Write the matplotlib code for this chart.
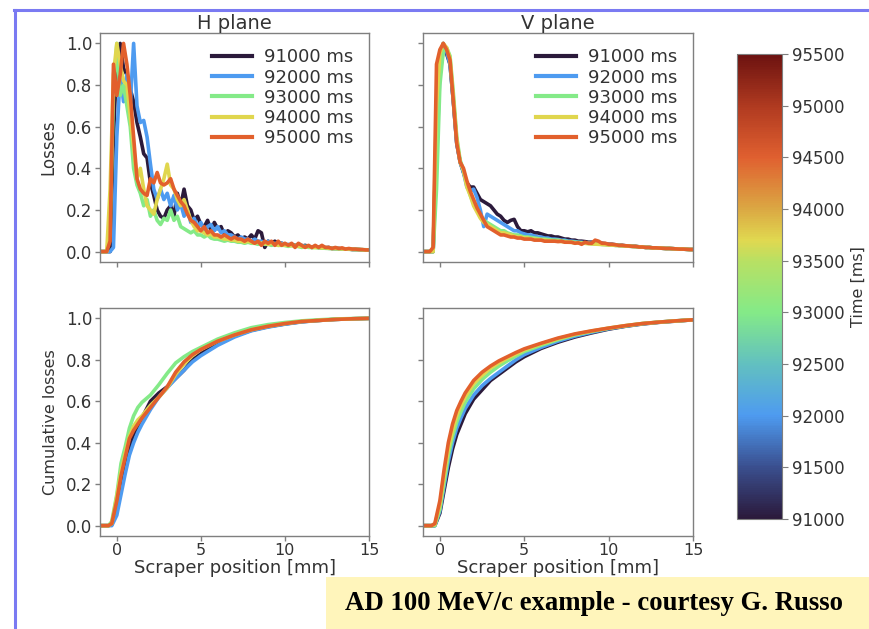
import numpy as np
import matplotlib
matplotlib.use("Agg")
import matplotlib.pyplot as plt
from matplotlib.colors import LinearSegmentedColormap, Normalize
from matplotlib.cm import ScalarMappable
from matplotlib.patches import Rectangle
from matplotlib.lines import Line2D

# ---------------- data ----------------
times = [91000, 92000, 93000, 94000, 95000]
labels = ["91000 ms", "92000 ms", "93000 ms", "94000 ms", "95000 ms"]
line_colors = ["#2b1a3b", "#4e9bf0", "#84ea88", "#e0d64e", "#e2602c"]

# scraper positions for the normalised loss profiles (mm)
x_loss = np.round(np.arange(-1.0, 15.0001, 0.2), 2)

h_loss_91000 = [0, 0, 0, 0, 0.55, 0.93, 1.0, 0.88, 0.85, 0.78,
                0.72, 0.62, 0.55, 0.47, 0.45, 0.33, 0.27, 0.2, 0.17, 0.16,
                0.2, 0.22, 0.17, 0.28, 0.22, 0.3, 0.22, 0.2, 0.15, 0.17,
                0.13, 0.12, 0.15, 0.1, 0.14, 0.11, 0.12, 0.08, 0.1, 0.09,
                0.07, 0.08, 0.06, 0.07, 0.06, 0.08, 0.06, 0.1, 0.09, 0.02,
                0.05, 0.04, 0.05, 0.04, 0.04, 0.035, 0.03, 0.035, 0.03, 0.03,
                0.025, 0.03, 0.025, 0.02, 0.025, 0.02, 0.02, 0.018, 0.02, 0.015,
                0.015, 0.015, 0.012, 0.013, 0.012, 0.01, 0.01, 0.01, 0.008, 0.008, 0.007]
h_loss_92000 = [0, 0, 0, 0, 0.02, 0.55, 0.85, 0.72, 0.85, 0.7,
                1.0, 0.7, 0.62, 0.63, 0.55, 0.42, 0.3, 0.25, 0.3, 0.25,
                0.28, 0.22, 0.27, 0.2, 0.23, 0.17, 0.2, 0.14, 0.16, 0.12,
                0.14, 0.1, 0.12, 0.13, 0.1, 0.12, 0.09, 0.1, 0.08, 0.08,
                0.07, 0.06, 0.07, 0.06, 0.06, 0.05, 0.06, 0.05, 0.05, 0.04,
                0.05, 0.04, 0.04, 0.035, 0.04, 0.03, 0.035, 0.03, 0.03, 0.025,
                0.03, 0.025, 0.025, 0.02, 0.022, 0.02, 0.018, 0.02, 0.016, 0.015,
                0.015, 0.014, 0.013, 0.012, 0.012, 0.011, 0.01, 0.01, 0.009, 0.008, 0.008]
h_loss_93000 = [0, 0, 0, 0.1, 0.75, 1.0, 0.75, 0.8, 0.7, 0.6,
                0.4, 0.32, 0.28, 0.22, 0.25, 0.17, 0.2, 0.15, 0.13, 0.16,
                0.15, 0.2, 0.15, 0.17, 0.12, 0.11, 0.1, 0.09, 0.1, 0.08,
                0.08, 0.07, 0.08, 0.065, 0.06, 0.06, 0.055, 0.05, 0.055, 0.05,
                0.05, 0.045, 0.045, 0.04, 0.045, 0.04, 0.04, 0.035, 0.04, 0.035,
                0.035, 0.03, 0.035, 0.03, 0.03, 0.03, 0.025, 0.03, 0.025, 0.025,
                0.02, 0.025, 0.02, 0.02, 0.02, 0.018, 0.017, 0.016, 0.015, 0.015,
                0.014, 0.013, 0.013, 0.012, 0.011, 0.011, 0.01, 0.01, 0.009, 0.009, 0.008]
h_loss_94000 = [0, 0, 0, 0.3, 0.85, 1.0, 0.9, 0.82, 0.8, 0.65,
                0.5, 0.35, 0.4, 0.3, 0.22, 0.2, 0.18, 0.25, 0.3, 0.35,
                0.42, 0.32, 0.3, 0.25, 0.22, 0.25, 0.2, 0.15, 0.12, 0.1,
                0.1, 0.09, 0.08, 0.085, 0.07, 0.07, 0.065, 0.06, 0.06, 0.055,
                0.055, 0.05, 0.05, 0.045, 0.05, 0.045, 0.04, 0.045, 0.04, 0.04,
                0.035, 0.04, 0.035, 0.03, 0.035, 0.03, 0.03, 0.028, 0.03, 0.025,
                0.025, 0.022, 0.025, 0.02, 0.02, 0.02, 0.018, 0.02, 0.016, 0.015,
                0.015, 0.014, 0.013, 0.012, 0.012, 0.011, 0.01, 0.01, 0.009, 0.008, 0.008]
h_loss_95000 = [0, 0, 0, 0.05, 0.9, 0.75, 0.85, 1.0, 0.9, 0.75,
                0.55, 0.35, 0.3, 0.28, 0.27, 0.35, 0.33, 0.38, 0.33, 0.32,
                0.33, 0.35, 0.3, 0.27, 0.24, 0.22, 0.18, 0.15, 0.14, 0.12,
                0.1, 0.12, 0.09, 0.1, 0.08, 0.08, 0.07, 0.08, 0.07, 0.06,
                0.07, 0.06, 0.06, 0.05, 0.06, 0.05, 0.04, 0.05, 0.03, 0.05,
                0.04, 0.05, 0.03, 0.05, 0.03, 0.04, 0.03, 0.04, 0.02, 0.04,
                0.03, 0.02, 0.03, 0.02, 0.03, 0.02, 0.03, 0.02, 0.02, 0.015,
                0.02, 0.015, 0.018, 0.012, 0.015, 0.012, 0.012, 0.01, 0.01, 0.008, 0.008]

v_loss_91000 = [0, 0, 0, 0, 0.6, 0.9, 1.0, 0.95, 0.9, 0.72,
                0.52, 0.43, 0.38, 0.33, 0.31, 0.31, 0.28, 0.25, 0.24, 0.23,
                0.22, 0.2, 0.18, 0.17, 0.15, 0.14, 0.15, 0.155, 0.12, 0.1,
                0.1, 0.095, 0.1, 0.09, 0.09, 0.085, 0.08, 0.075, 0.075, 0.07,
                0.07, 0.065, 0.06, 0.06, 0.055, 0.055, 0.05, 0.05, 0.048, 0.045,
                0.045, 0.042, 0.04, 0.04, 0.038, 0.035, 0.035, 0.033, 0.03, 0.03,
                0.028, 0.027, 0.026, 0.025, 0.023, 0.022, 0.02, 0.02, 0.018, 0.018,
                0.017, 0.016, 0.015, 0.015, 0.014, 0.013, 0.012, 0.012, 0.011, 0.01, 0.01]
v_loss_92000 = [0, 0, 0, 0, 0.45, 0.85, 0.97, 0.96, 0.9, 0.72,
                0.52, 0.43, 0.38, 0.31, 0.29, 0.3, 0.26, 0.2, 0.12, 0.18,
                0.17, 0.16, 0.15, 0.14, 0.13, 0.12, 0.11, 0.1, 0.1, 0.09,
                0.085, 0.08, 0.08, 0.075, 0.07, 0.07, 0.065, 0.065, 0.06, 0.06,
                0.058, 0.055, 0.055, 0.05, 0.05, 0.048, 0.045, 0.045, 0.042, 0.04,
                0.04, 0.038, 0.037, 0.035, 0.035, 0.033, 0.032, 0.03, 0.03, 0.028,
                0.027, 0.026, 0.025, 0.024, 0.023, 0.022, 0.02, 0.02, 0.018, 0.018,
                0.017, 0.016, 0.015, 0.015, 0.014, 0.013, 0.012, 0.012, 0.011, 0.01, 0.01]
v_loss_93000 = [0, 0, 0, 0, 0.3, 0.8, 0.96, 0.98, 0.94, 0.76,
                0.55, 0.44, 0.39, 0.32, 0.27, 0.23, 0.2, 0.17, 0.15, 0.14,
                0.13, 0.12, 0.11, 0.1, 0.1, 0.09, 0.085, 0.08, 0.08, 0.075,
                0.07, 0.07, 0.068, 0.065, 0.063, 0.06, 0.06, 0.058, 0.056, 0.055,
                0.055, 0.052, 0.05, 0.048, 0.047, 0.045, 0.044, 0.042, 0.04, 0.04,
                0.038, 0.037, 0.036, 0.035, 0.034, 0.033, 0.032, 0.03, 0.03, 0.028,
                0.027, 0.026, 0.025, 0.024, 0.023, 0.022, 0.02, 0.02, 0.018, 0.018,
                0.017, 0.016, 0.015, 0.015, 0.014, 0.013, 0.012, 0.012, 0.011, 0.01, 0.01]
v_loss_94000 = [0, 0, 0, 0, 0.7, 0.95, 1.0, 0.98, 0.93, 0.74,
                0.54, 0.43, 0.39, 0.31, 0.27, 0.22, 0.19, 0.16, 0.14, 0.13,
                0.12, 0.11, 0.1, 0.09, 0.09, 0.085, 0.08, 0.075, 0.07, 0.07,
                0.065, 0.065, 0.06, 0.06, 0.058, 0.056, 0.055, 0.053, 0.052, 0.05,
                0.05, 0.048, 0.047, 0.045, 0.044, 0.042, 0.041, 0.04, 0.04, 0.038,
                0.037, 0.036, 0.035, 0.034, 0.033, 0.032, 0.031, 0.03, 0.029, 0.028,
                0.027, 0.026, 0.025, 0.024, 0.023, 0.022, 0.02, 0.02, 0.018, 0.018,
                0.017, 0.016, 0.015, 0.015, 0.014, 0.013, 0.012, 0.012, 0.011, 0.01, 0.01]
v_loss_95000 = [0, 0, 0, 0.02, 0.9, 0.97, 1.0, 0.97, 0.92, 0.72,
                0.52, 0.43, 0.4, 0.34, 0.29, 0.25, 0.21, 0.18, 0.15, 0.12,
                0.11, 0.1, 0.09, 0.08, 0.08, 0.075, 0.07, 0.07, 0.065, 0.065,
                0.06, 0.06, 0.06, 0.055, 0.055, 0.055, 0.05, 0.05, 0.05, 0.05,
                0.048, 0.05, 0.045, 0.045, 0.045, 0.04, 0.042, 0.035, 0.045, 0.04,
                0.04, 0.055, 0.05, 0.04, 0.04, 0.035, 0.035, 0.033, 0.03, 0.03,
                0.028, 0.027, 0.025, 0.025, 0.022, 0.022, 0.02, 0.02, 0.018, 0.018,
                0.017, 0.016, 0.015, 0.015, 0.014, 0.013, 0.012, 0.012, 0.011, 0.01, 0.01]

# scraper positions for the cumulative curves (mm)
x_cum = [-1, -0.5, -0.3, 0, 0.25, 0.5, 0.75, 1, 1.25, 1.5, 2, 2.5, 3, 3.5,
         4, 4.5, 5, 6, 7, 8, 9, 10, 11, 12, 13, 14, 15]

h_cum_91000 = [0, 0, 0.005, 0.1, 0.2, 0.3, 0.38, 0.44, 0.48, 0.52, 0.6, 0.64, 0.67, 0.71,
               0.75, 0.8, 0.83, 0.88, 0.915, 0.942, 0.96, 0.973, 0.984, 0.99, 0.995, 0.998, 1.0]
h_cum_92000 = [0, 0, 0, 0.05, 0.15, 0.25, 0.34, 0.4, 0.45, 0.49, 0.56, 0.62, 0.665, 0.71,
               0.75, 0.79, 0.82, 0.87, 0.91, 0.94, 0.958, 0.972, 0.983, 0.99, 0.995, 0.998, 1.0]
h_cum_93000 = [0, 0, 0.02, 0.15, 0.3, 0.38, 0.47, 0.53, 0.57, 0.595, 0.63, 0.68, 0.735, 0.785,
               0.815, 0.84, 0.86, 0.9, 0.93, 0.955, 0.97, 0.98, 0.988, 0.993, 0.997, 0.999, 1.0]
h_cum_94000 = [0, 0, 0.01, 0.14, 0.26, 0.35, 0.43, 0.48, 0.51, 0.53, 0.58, 0.62, 0.665, 0.73,
               0.78, 0.82, 0.85, 0.89, 0.92, 0.945, 0.962, 0.975, 0.985, 0.99, 0.995, 0.998, 1.0]
h_cum_95000 = [0, 0, 0.01, 0.12, 0.24, 0.33, 0.42, 0.46, 0.49, 0.52, 0.57, 0.62, 0.67, 0.74,
               0.79, 0.825, 0.85, 0.89, 0.92, 0.945, 0.962, 0.975, 0.985, 0.99, 0.995, 0.998, 1.0]

v_cum_91000 = [0, 0, 0, 0.06, 0.17, 0.28, 0.37, 0.44, 0.49, 0.54, 0.61, 0.655, 0.7, 0.73,
               0.76, 0.79, 0.815, 0.855, 0.885, 0.91, 0.93, 0.948, 0.962, 0.973, 0.981, 0.987, 0.993]
v_cum_92000 = [0, 0, 0, 0.07, 0.19, 0.31, 0.4, 0.47, 0.52, 0.565, 0.63, 0.675, 0.71, 0.74,
               0.77, 0.8, 0.825, 0.86, 0.89, 0.914, 0.933, 0.95, 0.963, 0.974, 0.982, 0.988, 0.993]
v_cum_93000 = [0, 0, 0, 0.08, 0.21, 0.34, 0.43, 0.5, 0.55, 0.595, 0.66, 0.705, 0.74, 0.77,
               0.795, 0.818, 0.84, 0.87, 0.897, 0.92, 0.937, 0.952, 0.964, 0.975, 0.982, 0.988, 0.993]
v_cum_94000 = [0, 0, 0.005, 0.1, 0.24, 0.37, 0.46, 0.53, 0.58, 0.62, 0.685, 0.725, 0.76, 0.785,
               0.808, 0.828, 0.848, 0.877, 0.902, 0.923, 0.939, 0.953, 0.965, 0.975, 0.982, 0.988, 0.993]
v_cum_95000 = [0, 0, 0.01, 0.12, 0.27, 0.4, 0.49, 0.555, 0.6, 0.64, 0.7, 0.74, 0.77, 0.795,
               0.815, 0.835, 0.853, 0.88, 0.905, 0.925, 0.94, 0.953, 0.965, 0.975, 0.982, 0.988, 0.993]

h_loss = [h_loss_91000, h_loss_92000, h_loss_93000, h_loss_94000, h_loss_95000]
v_loss = [v_loss_91000, v_loss_92000, v_loss_93000, v_loss_94000, v_loss_95000]
h_cum = [h_cum_91000, h_cum_92000, h_cum_93000, h_cum_94000, h_cum_95000]
v_cum = [v_cum_91000, v_cum_92000, v_cum_93000, v_cum_94000, v_cum_95000]

cbar_ticks = list(range(91000, 95501, 500))
cbar_nodes = [0.0, 0.111, 0.222, 0.333, 0.444, 0.555, 0.6, 0.667, 0.778, 0.889, 1.0]
cbar_node_colors = ["#2b1a3b", "#3a4f8f", "#4e9bf0", "#62c0c0", "#84ea88", "#b8e063",
                    "#e0d850", "#dba843", "#e06030", "#b03a20", "#6c1210"]

# ---------------- figure ----------------
W, H = 869, 629
fig = plt.figure(figsize=(W / 100, H / 100), dpi=100)
fig.patch.set_facecolor("white")

TEXT = "#333333"
SPINE = "#7f7f7f"
plt.rcParams["font.family"] = ["DejaVu Sans"]


def px_axes(x0, y0, x1, y1):
    return fig.add_axes([x0 / W, 1 - y1 / H, (x1 - x0) / W, (y1 - y0) / H])


ax_hl = px_axes(100, 33, 369, 262)
ax_vl = px_axes(423, 33, 693, 262)
ax_hc = px_axes(100, 308, 369, 536)
ax_vc = px_axes(423, 308, 693, 536)
cax = px_axes(737, 54, 782, 519)

for ax in (ax_hl, ax_vl, ax_hc, ax_vc):
    ax.set_xlim(-1, 15)
    ax.set_ylim(-0.05, 1.05)
    ax.set_xticks([0, 5, 10, 15])
    ax.set_yticks([0.0, 0.2, 0.4, 0.6, 0.8, 1.0])
    for s in ax.spines.values():
        s.set_color(SPINE)
        s.set_linewidth(1.0)
    ax.tick_params(direction="out", length=3.5, width=1, color=SPINE,
                   labelcolor=TEXT, labelsize=12, pad=2)
    ax.tick_params(axis="x", labelsize=11.5, pad=1.5)

for ax in (ax_hl, ax_vl):
    ax.tick_params(labelbottom=False)
for ax in (ax_vl, ax_vc):
    ax.tick_params(labelleft=False)
for ax in (ax_hc, ax_hl):
    ax.yaxis.set_major_formatter(plt.FuncFormatter(lambda v, p: f"{v:.1f}"))

LW = 2.6
for ys, c, lab in zip(h_loss, line_colors, labels):
    ax_hl.plot(x_loss, ys, color=c, lw=LW, label=lab)
for ys, c, lab in zip(v_loss, line_colors, labels):
    ax_vl.plot(x_loss, ys, color=c, lw=LW, label=lab)
for ys, c in zip(h_cum, line_colors):
    ax_hc.plot(x_cum, ys, color=c, lw=LW)
for ys, c in zip(v_cum, line_colors):
    ax_vc.plot(x_cum, ys, color=c, lw=LW)

ax_hl.set_title("H plane", fontsize=14, color=TEXT, pad=3)
ax_vl.set_title("V plane", fontsize=14, color=TEXT, pad=3)
ax_hl.set_ylabel("Losses", fontsize=12, color=TEXT, labelpad=6)
ax_hc.set_ylabel("Cumulative losses", fontsize=11.5, color=TEXT, labelpad=6)
ax_hc.set_xlabel("Scraper position [mm]", fontsize=13, color=TEXT, labelpad=0.5)
ax_vc.set_xlabel("Scraper position [mm]", fontsize=13, color=TEXT, labelpad=0.5)

for ax in (ax_hl, ax_vl):
    leg = ax.legend(loc="upper right", frameon=False, fontsize=13,
                    handlelength=2.2, handletextpad=0.7, labelspacing=0.12,
                    borderaxespad=0.45, bbox_to_anchor=(1.0, 1.0))
    for t in leg.get_texts():
        t.set_color(TEXT)
    for h in leg.get_lines():
        h.set_linewidth(3)

# colour bar for acquisition time
cmap = LinearSegmentedColormap.from_list("time_map", list(zip(cbar_nodes, cbar_node_colors)))
sm = ScalarMappable(norm=Normalize(vmin=times[0], vmax=95500), cmap=cmap)
cb = fig.colorbar(sm, cax=cax, ticks=cbar_ticks)
cb.outline.set_edgecolor(SPINE)
cb.ax.tick_params(labelsize=12, labelcolor=TEXT, color=SPINE, length=4)
cb.set_label("Time [ms]", fontsize=11.5, color=TEXT, labelpad=4)

# slide frame
frame_c = "#7a7af2"
fig.add_artist(Line2D([14 / W, 1.0], [1 - 10 / H, 1 - 10 / H], color=frame_c, lw=2.2,
                      transform=fig.transFigure))
fig.add_artist(Line2D([15 / W, 15 / W], [0.0, 1 - 10 / H], color=frame_c, lw=2.2,
                      transform=fig.transFigure))

# caption box
fig.add_artist(Rectangle((326 / W, 0), (W - 326) / W, 52 / H, transform=fig.transFigure,
                         facecolor="#fff5bb", edgecolor="none"))
fig.text(594 / W, 1 - 603 / H, "AD 100 MeV/c example - courtesy G. Russo",
         family="Liberation Serif", weight="bold", fontsize=19.3, color="black",
         ha="center", va="center")

fig.savefig("out.png", dpi=100)
